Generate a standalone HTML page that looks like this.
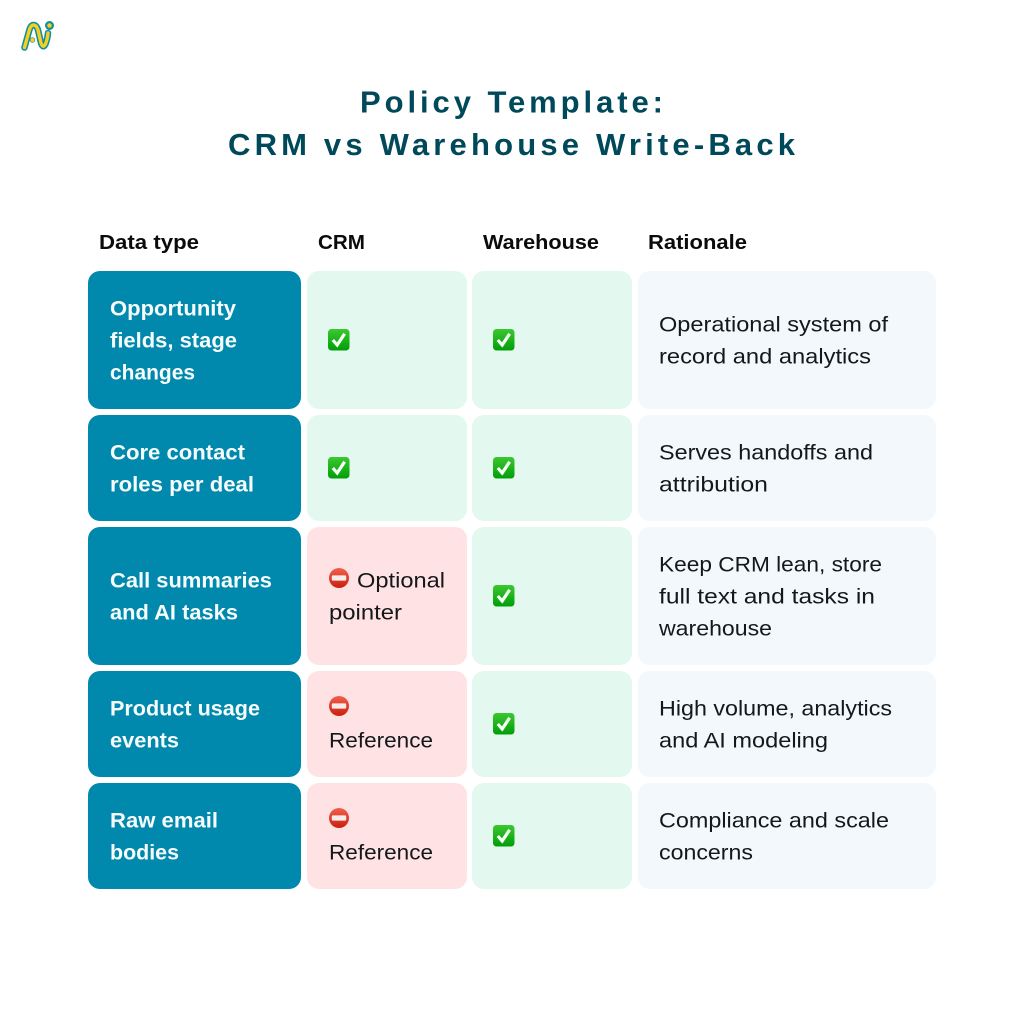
<!DOCTYPE html>
<html lang="en">
<head>
<meta charset="utf-8">
<title>Policy Template: CRM vs Warehouse Write-Back</title>
<style>
html,body{margin:0;padding:0;background:#fff;width:1024px;height:1024px;overflow:hidden}
svg{display:block}
text{font-family:"Liberation Sans",sans-serif}
.title{font-size:31px;font-weight:700;fill:#00495A}
.head{font-size:20.5px;font-weight:700;fill:#0b0b0b}
.key{font-size:21px;font-weight:700;fill:#f7fcfd}
.body{font-size:21px;fill:#14181b}
.teal{fill:#0088AD}.green{fill:#E3F9F0}.pink{fill:#FFE3E4}.pale{fill:#F2F8FB}
</style>
</head>
<body>
<svg width="1024" height="1024" viewBox="0 0 1024 1024" xmlns="http://www.w3.org/2000/svg">
<defs>
<linearGradient id="checkFill" x1="0" y1="0" x2="0" y2="1"><stop offset="0" stop-color="#3cc832"/><stop offset="1" stop-color="#009e08"/></linearGradient>
<linearGradient id="stopFill" x1="0" y1="0" x2="0" y2="1"><stop offset="0" stop-color="#f0604c"/><stop offset="1" stop-color="#c8200f"/></linearGradient>
<g id="check"><rect x="0" y="0" width="21.5" height="21.5" rx="3.5" fill="url(#checkFill)"/><path d="M4.8 11 L9.2 16 L16.6 4.8" fill="none" stroke="#f5fff5" stroke-width="3.2"/></g>
<g id="stop"><circle cx="10" cy="10" r="10" fill="url(#stopFill)"/><rect x="2.8" y="7.4" width="14.4" height="5.2" rx="1" fill="#f8ebe9"/></g>
</defs>

<g fill="none" stroke-linecap="round" stroke-linejoin="round">
<path d="M24.5 47.5 L29.5 29.5 Q31 25 33.5 25 Q36.5 25 38 30 L41 43 Q43 49 45.5 44 Q47.5 39 48 33" stroke="#0F8F9E" stroke-width="6.5"/>
<circle cx="49.5" cy="25.5" r="3.4" fill="#F7CE22" stroke="#0F8F9E" stroke-width="2.2"/>
<path d="M24.5 47.5 L29.5 29.5 Q31 25 33.5 25 Q36.5 25 38 30 L41 43 Q43 49 45.5 44 Q47.5 39 48 33" stroke="#F7CE22" stroke-width="3.4"/>
<circle cx="32.5" cy="40" r="2.4" fill="#F7CE22" stroke="#0F8F9E" stroke-width="0.6"/>
</g>

<text class="title" x="360" y="112.5" textLength="303" lengthAdjust="spacing">Policy Template:</text>
<text class="title" x="228" y="155" textLength="567" lengthAdjust="spacing">CRM vs Warehouse Write-Back</text>

<text class="head" x="99" y="249" textLength="100" lengthAdjust="spacingAndGlyphs">Data type</text>
<text class="head" x="318" y="249" textLength="47" lengthAdjust="spacingAndGlyphs">CRM</text>
<text class="head" x="483" y="249" textLength="116" lengthAdjust="spacingAndGlyphs">Warehouse</text>
<text class="head" x="648" y="249" textLength="99" lengthAdjust="spacingAndGlyphs">Rationale</text>

<g>
<rect class="teal" x="88" y="271" width="213" height="138" rx="12"/>
<rect class="green" x="307" y="271" width="160" height="138" rx="12"/>
<rect class="green" x="472" y="271" width="160" height="138" rx="12"/>
<rect class="pale" x="638" y="271" width="298" height="138" rx="12"/>
<text class="key" x="110" y="315.5" textLength="126" lengthAdjust="spacingAndGlyphs">Opportunity</text>
<text class="key" x="110" y="347.5" textLength="127" lengthAdjust="spacingAndGlyphs">fields, stage</text>
<text class="key" x="110" y="379.5" textLength="85" lengthAdjust="spacingAndGlyphs">changes</text>
<use href="#check" x="328" y="329"/>
<use href="#check" x="493" y="329"/>
<text class="body" x="659" y="331.5" textLength="229" lengthAdjust="spacingAndGlyphs">Operational system of</text>
<text class="body" x="659" y="363.5" textLength="212" lengthAdjust="spacingAndGlyphs">record and analytics</text>
</g>

<g>
<rect class="teal" x="88" y="415" width="213" height="106" rx="12"/>
<rect class="green" x="307" y="415" width="160" height="106" rx="12"/>
<rect class="green" x="472" y="415" width="160" height="106" rx="12"/>
<rect class="pale" x="638" y="415" width="298" height="106" rx="12"/>
<text class="key" x="110" y="459.5" textLength="135" lengthAdjust="spacingAndGlyphs">Core contact</text>
<text class="key" x="110" y="491.5" textLength="144" lengthAdjust="spacingAndGlyphs">roles per deal</text>
<use href="#check" x="328" y="457"/>
<use href="#check" x="493" y="457"/>
<text class="body" x="659" y="459.5" textLength="214" lengthAdjust="spacingAndGlyphs">Serves handoffs and</text>
<text class="body" x="659" y="491.5" textLength="109" lengthAdjust="spacingAndGlyphs">attribution</text>
</g>

<g>
<rect class="teal" x="88" y="527" width="213" height="138" rx="12"/>
<rect class="pink" x="307" y="527" width="160" height="138" rx="12"/>
<rect class="green" x="472" y="527" width="160" height="138" rx="12"/>
<rect class="pale" x="638" y="527" width="298" height="138" rx="12"/>
<text class="key" x="110" y="587.5" textLength="162" lengthAdjust="spacingAndGlyphs">Call summaries</text>
<text class="key" x="110" y="619.5" textLength="128" lengthAdjust="spacingAndGlyphs">and AI tasks</text>
<use href="#stop" x="329" y="568"/>
<text class="body" x="357" y="587.5" textLength="88" lengthAdjust="spacingAndGlyphs">Optional</text>
<text class="body" x="329" y="619.5" textLength="73" lengthAdjust="spacingAndGlyphs">pointer</text>
<use href="#check" x="493" y="585"/>
<text class="body" x="659" y="571.5" textLength="223" lengthAdjust="spacingAndGlyphs">Keep CRM lean, store</text>
<text class="body" x="659" y="603.5" textLength="216" lengthAdjust="spacingAndGlyphs">full text and tasks in</text>
<text class="body" x="659" y="635.5" textLength="113" lengthAdjust="spacingAndGlyphs">warehouse</text>
</g>

<g>
<rect class="teal" x="88" y="671" width="213" height="106" rx="12"/>
<rect class="pink" x="307" y="671" width="160" height="106" rx="12"/>
<rect class="green" x="472" y="671" width="160" height="106" rx="12"/>
<rect class="pale" x="638" y="671" width="298" height="106" rx="12"/>
<text class="key" x="110" y="715.5" textLength="150" lengthAdjust="spacingAndGlyphs">Product usage</text>
<text class="key" x="110" y="747.5" textLength="69" lengthAdjust="spacingAndGlyphs">events</text>
<use href="#stop" x="329" y="696"/>
<text class="body" x="329" y="747.5" textLength="104" lengthAdjust="spacingAndGlyphs">Reference</text>
<use href="#check" x="493" y="713"/>
<text class="body" x="659" y="715.5" textLength="233" lengthAdjust="spacingAndGlyphs">High volume, analytics</text>
<text class="body" x="659" y="747.5" textLength="169" lengthAdjust="spacingAndGlyphs">and AI modeling</text>
</g>

<g>
<rect class="teal" x="88" y="783" width="213" height="106" rx="12"/>
<rect class="pink" x="307" y="783" width="160" height="106" rx="12"/>
<rect class="green" x="472" y="783" width="160" height="106" rx="12"/>
<rect class="pale" x="638" y="783" width="298" height="106" rx="12"/>
<text class="key" x="110" y="827.5" textLength="108" lengthAdjust="spacingAndGlyphs">Raw email</text>
<text class="key" x="110" y="859.5" textLength="69" lengthAdjust="spacingAndGlyphs">bodies</text>
<use href="#stop" x="329" y="808"/>
<text class="body" x="329" y="859.5" textLength="104" lengthAdjust="spacingAndGlyphs">Reference</text>
<use href="#check" x="493" y="825"/>
<text class="body" x="659" y="827.5" textLength="230" lengthAdjust="spacingAndGlyphs">Compliance and scale</text>
<text class="body" x="659" y="859.5" textLength="94" lengthAdjust="spacingAndGlyphs">concerns</text>
</g>
</svg>
</body>
</html>
